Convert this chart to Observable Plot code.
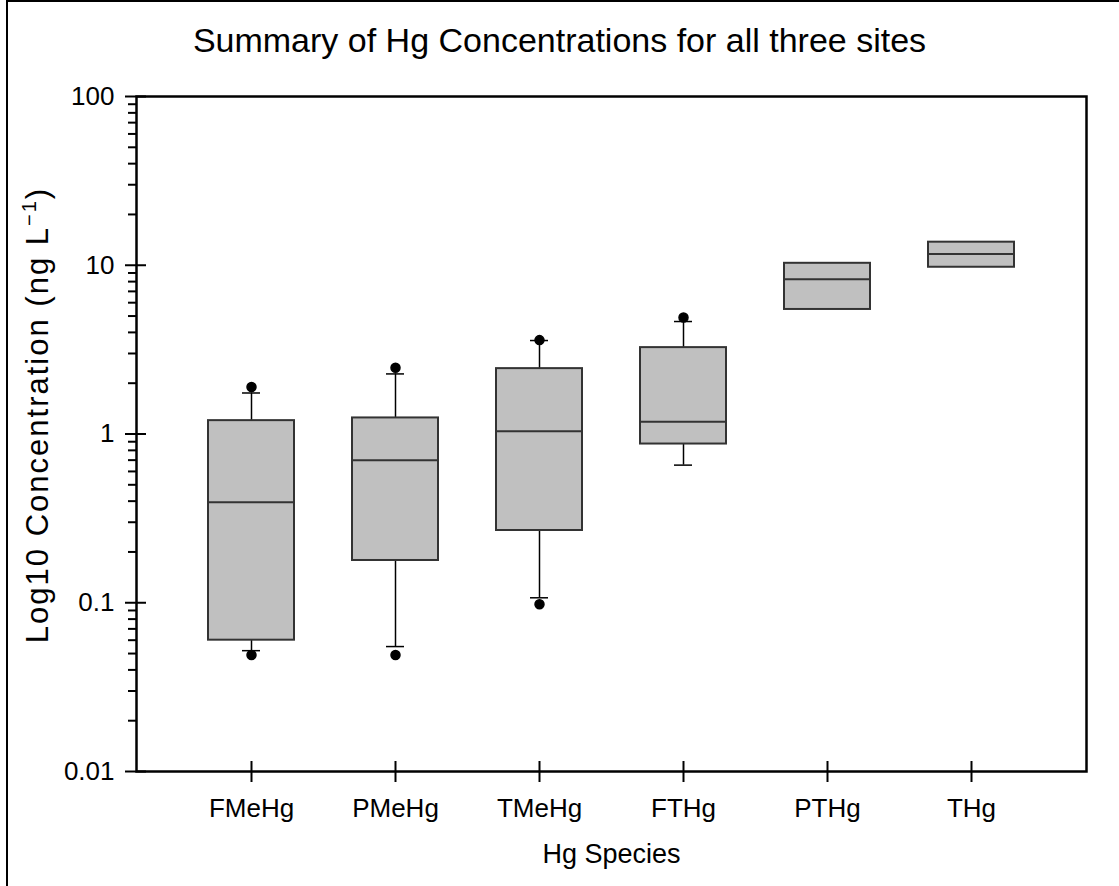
<!DOCTYPE html>
<html>
<head>
<meta charset="utf-8">
<script src="https://cdn.jsdelivr.net/npm/d3@7"></script>
<script src="https://cdn.jsdelivr.net/npm/@observablehq/plot@0.6"></script>
<style>
  body { margin: 0; background: #fff; font-family: "Liberation Sans", Arial, sans-serif; }
  #page { position: relative; width: 1119px; height: 886px; overflow: hidden; background: #fff; }
  #edge { position: absolute; left: 6px; top: 0; width: 1113px; height: 886px; box-sizing: border-box;
          border-top: 2px solid #000; border-left: 2px solid #000; pointer-events: none; }
  #title { height: 70px; box-sizing: border-box; padding-top: 12px; line-height: 56px;
           text-align: center; font-size: 34px; color: #000; }
  #chart svg { display: block; }
</style>
</head>
<body>
<div id="page">
  <div id="edge"></div>
  <div id="title">Summary of Hg Concentrations for all three sites</div>
  <div id="chart"></div>
</div>
<script>
// Mercury species, box-plot statistics (ng/L)
const species = ["FMeHg", "PMeHg", "TMeHg", "FTHg", "PTHg", "THg"];
const q1 = [0.060, 0.178, 0.268, 0.872, 5.47, 9.73];
const median = [0.394, 0.70, 1.04, 1.18, 8.26, 11.65];
const q3 = [1.20, 1.245, 2.44, 3.25, 10.27, 13.7];
const whiskerLow = [0.052, 0.055, 0.107, 0.654, null, null];
const whiskerHigh = [1.75, 2.27, 3.58, 4.64, null, null];

// Outlying observations
const outlierSpecies = ["FMeHg", "FMeHg", "PMeHg", "PMeHg", "TMeHg", "TMeHg", "FTHg"];
const outlierValues = [1.9, 0.049, 2.47, 0.049, 3.6, 0.098, 4.9];

// Axis ticks
const majorTicks = [0.01, 0.1, 1, 10, 100];
const majorLabels = ["0.01", "0.1", "1", "10", "100"];
const minorTicks = [0.02, 0.03, 0.04, 0.05, 0.06, 0.07, 0.08, 0.09,
                    0.2, 0.3, 0.4, 0.5, 0.6, 0.7, 0.8, 0.9,
                    2, 3, 4, 5, 6, 7, 8, 9,
                    20, 30, 40, 50, 60, 70, 80, 90];

// Axis titles (the y title carries a superscript exponent)
const yTitleMain = "Log10 Concentration (ng L";
const yTitleSup = "\u22121";
const yTitleEnd = ")";
const yTitle = yTitleMain + yTitleSup + yTitleEnd;
const xTitle = "Hg Species";

const boxes = species.map((s, i) => ({
  species: s, q1: q1[i], median: median[i], q3: q3[i],
  lo: whiskerLow[i], hi: whiskerHigh[i]
}));
const whiskered = boxes.filter(d => d.lo != null);
const outliers = outlierSpecies.map((s, i) => ({species: s, value: outlierValues[i]}));
const yTickRows = majorTicks.map((v, i) => ({value: v, label: majorLabels[i]}));

const W = 1119, H = 816;
const M = {top: 26, right: 33, bottom: 115, left: 136};
const frameW = W - M.left - M.right;
const frameH = H - M.top - M.bottom;

const ink = "#000";
const boxStroke = "#333";
const font = "'Liberation Sans', Arial, sans-serif";

const chart = Plot.plot({
  width: W,
  height: H,
  marginTop: M.top,
  marginBottom: M.bottom,
  marginLeft: M.left,
  marginRight: M.right,
  style: {fontFamily: font, fontSize: "26px", color: ink, background: "#fff", overflow: "visible"},
  x: {type: "band", domain: species, paddingInner: 0.4, paddingOuter: 0.494, axis: null},
  y: {type: "log", domain: [0.01, 100], axis: null},
  marks: [
    // whiskers
    Plot.ruleX(whiskered, {x: "species", y1: "q3", y2: "hi", stroke: ink, strokeWidth: 1.5}),
    Plot.ruleX(whiskered, {x: "species", y1: "lo", y2: "q1", stroke: ink, strokeWidth: 1.5}),
    Plot.tickY(whiskered, {x: "species", y: "hi", insetLeft: 34, insetRight: 34, stroke: ink, strokeWidth: 1.5}),
    Plot.tickY(whiskered, {x: "species", y: "lo", insetLeft: 34, insetRight: 34, stroke: ink, strokeWidth: 1.5}),
    // boxes
    Plot.barY(boxes, {x: "species", y1: "q1", y2: "q3", fill: "#c0c0c0", stroke: boxStroke, strokeWidth: 2}),
    Plot.tickY(boxes, {x: "species", y: "median", stroke: boxStroke, strokeWidth: 2}),
    // outliers
    Plot.dot(outliers, {x: "species", y: "value", r: 4.5, fill: ink, stroke: ink}),
    // frame
    Plot.frame({stroke: ink, strokeWidth: 2.5}),
    // y axis: major ticks cross the axis line, minor ticks sit outside
    Plot.ruleY(majorTicks, {y: d => d, insetLeft: -11, insetRight: frameW - 10, stroke: ink, strokeWidth: 2}),
    Plot.ruleY(minorTicks, {y: d => d, insetLeft: -8, insetRight: frameW, stroke: ink, strokeWidth: 2}),
    Plot.text(yTickRows, {y: "value", text: "label", frameAnchor: "left", dx: -22, textAnchor: "end",
                          fill: ink, fontSize: 26}),
    // x axis: crossing ticks and category labels
    Plot.ruleX(species, {x: d => d, insetTop: frameH - 10, insetBottom: -11, stroke: ink, strokeWidth: 2}),
    Plot.text(species, {x: d => d, text: d => d, frameAnchor: "bottom", dy: 27, lineAnchor: "top",
                        fill: ink, fontSize: 26}),
    // axis titles
    Plot.text([yTitle], {frameAnchor: "left", dx: -98, dy: -19, rotate: -90, textAnchor: "middle",
                         text: d => d, fill: ink, fontSize: 31}),
    Plot.text([xTitle], {frameAnchor: "bottom", dy: 91, text: d => d, fill: ink, fontSize: 27})
  ]
});

// Typeset the y title exponent as a raised, smaller run
d3.select(chart).selectAll("text")
  .filter(function() { return this.textContent === yTitle; })
  .each(function() {
    const t = d3.select(this).text(null).style("letter-spacing", "2px");
    t.append("tspan").text(yTitleMain);
    t.append("tspan").attr("font-size", 20).attr("dy", -12).text(yTitleSup);
    t.append("tspan").attr("dy", 12).text(yTitleEnd);
  });

document.getElementById("chart").appendChild(chart);
</script>
</body>
</html>
